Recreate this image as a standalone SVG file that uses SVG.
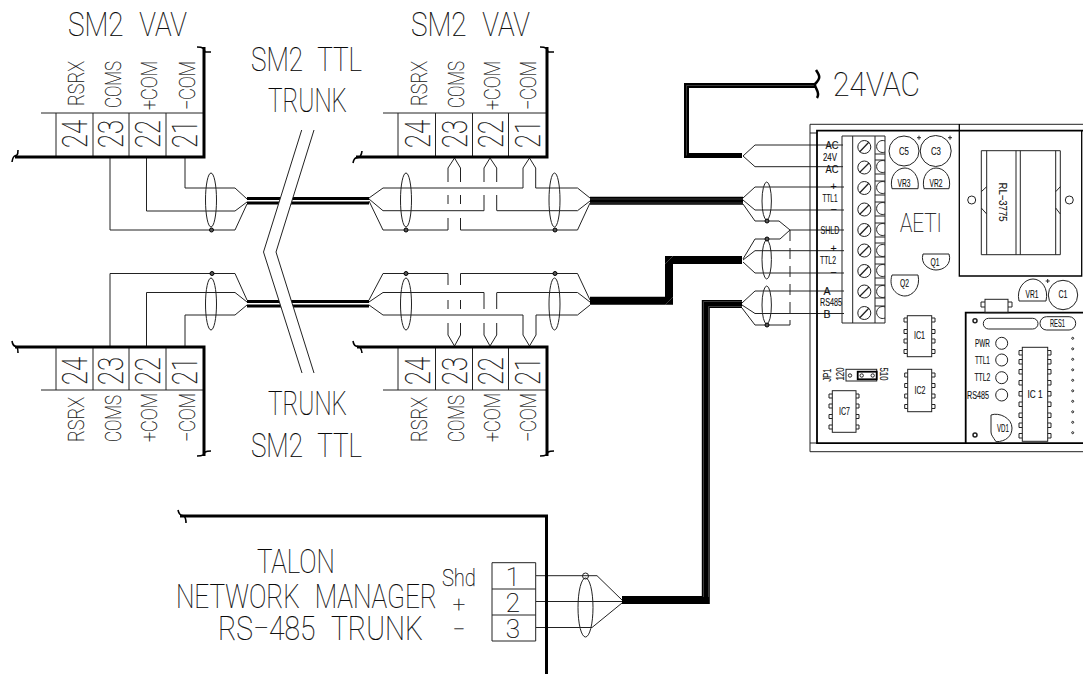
<svg xmlns="http://www.w3.org/2000/svg" width="1083" height="674" viewBox="0 0 1083 674">
<style>
text{font-family:"Roboto","Liberation Sans",sans-serif;fill:#1a1a1a;stroke:none}
.b{font-size:33.5px;font-weight:100;fill:#000;stroke:#222;stroke-width:.22;transform:rotate(.01deg)}
.r{font-size:22px;font-weight:100;fill:#000;stroke:#222;stroke-width:.25}
.n{font-size:35px;font-weight:100;fill:#000;stroke:#222;stroke-width:.22}
.s,.s text{font-family:"Liberation Sans",sans-serif;font-size:10.5px;fill:#111;stroke:#111;stroke-width:.12}
.s text,#talon text,#display-board text{transform:rotate(.01deg)}
.m{text-anchor:middle}
.sp{word-spacing:11px}
.f,.c{fill:none;stroke:#222;stroke-width:1}
.w{fill:none;stroke:#222;stroke-width:1}
.k{fill:none;stroke:#000;stroke-width:3;stroke-linejoin:miter}
.v{fill:none;stroke:#000;stroke-width:1.6}
.h{fill:none;stroke:#000;stroke-width:8;stroke-linejoin:miter}
.h5{fill:none;stroke:#000;stroke-width:5;stroke-linejoin:miter}
.g{fill:none;stroke:#777;stroke-width:.5}
.d{fill:none;stroke:#222;stroke-width:1;stroke-dasharray:11 7}
.bk{fill:#fff;stroke:#222;stroke-width:1}
.dot{fill:#555;stroke:#000;stroke-width:1}
.hv{fill:none;stroke:#000;stroke-width:1.3}
</style>
<g id="connectors" class="c">
<path d="M110 157V230H235L247 204M146.500 157V211H235L247 202M185 157V188H235L247 199"/>
<ellipse cx="211" cy="200" rx="5.500" ry="27"/>
<circle class="dot" cx="211.500" cy="230" r="2"/>
<path d="M110 347V273.500H235L247 300M146.500 347V292.500H235L247 302M185 347V315H235L247 305"/>
<ellipse cx="211" cy="304" rx="5.500" ry="26"/>
<circle class="dot" cx="212" cy="273.500" r="2"/>
<path class="k" d="M247 198.500H369M247 203H369"/>
<path class="k" d="M247 301.500H369M247 306H369"/>
<path d="M369 198L383 188H523V168L529.500 158L535.700 168V188H577.500L590 198M369 199L383 210.700H484M497 210.700H577.500L590 201M369 201L383 230H448M460.500 230H577.500L590 203"/>
<path d="M448 230V218M448 204V195M448 182V168L454.500 158L460.500 168V182M460.500 195V204M460.500 218V230M484 210.700V195M484 182V168L490 158L496.700 168V182M496.700 195V210.700"/>
<ellipse cx="406" cy="200" rx="5.500" ry="27"/>
<ellipse cx="554.500" cy="200" rx="5.500" ry="27"/>
<circle class="dot" cx="406" cy="230" r="2"/>
<circle class="dot" cx="555" cy="230" r="2"/>
<path d="M369 300L383 273.500H448M460.500 273.500H577.500L590 300M369 302L383 292.500H484M497 292.500H577.500L590 302M369 305L383 315H523M536 315H577.500L590 305"/>
<path d="M448 273.500V285M448 300V309M448 323V335L454.500 346L460.500 335V323M460.500 309V300M460.500 285V273.500M484 292.500V309M484 323V335L490 346L496.700 335V323M496.700 309V292.500M523 315V335L529.500 346L536 335V315"/>
<ellipse cx="406" cy="304" rx="5.500" ry="26"/>
<ellipse cx="554.500" cy="304" rx="5.500" ry="26"/>
<circle class="dot" cx="406" cy="273.500" r="2"/>
<circle class="dot" cx="555" cy="273.500" r="2"/>
<path class="h" d="M590 200.800H743"/>
<path class="g" d="M590 199H743M590 203H743"/>
<path class="h" d="M590 300.800H669V260H742"/>
<path class="h" d="M742 304H705.800V600H622"/>
<path class="g" d="M742 301.500H703.500M742 306.500H708.500M703.500 301.500V597M708.500 306.500V597"/>
<path class="g" d="M665 305L673 297M665 264L673 256"/>
<path class="h5" d="M815 85.500H686.500V155.500H742"/>
<path class="g" d="M815 85.500H686.500V155.500"/>
<path d="M743 156L755 145H843M743 156L755 166.700H843"/>
<path d="M743 198L755 187H844M743 200L755 210H844M743 204L755 221H779L790 230H844"/>
<path d="M790 230L780 239H755L743 259M743 260L755 250.700H844M743 262L755 273H844"/>
<path d="M742 303L755 291H844M742 305L755 313.500H844M742 308L755 325H790"/>
<line class="d" x1="790" y1="230" x2="790" y2="325"/>
<ellipse cx="766.700" cy="201" rx="4.700" ry="19"/>
<ellipse cx="766.700" cy="259.500" rx="4.700" ry="19.500"/>
<ellipse cx="766.700" cy="305" rx="4.700" ry="19"/>
<circle class="dot" cx="767" cy="221" r="2"/>
<circle class="dot" cx="767" cy="239" r="2"/>
<circle class="dot" cx="767" cy="325" r="2"/>
<path d="M536 575.700H597L622 600M536 601.500H622M536 627.500H592L622 603"/>
<ellipse cx="585.500" cy="607.500" rx="7.500" ry="29.500"/>
<circle cx="585.500" cy="576" r="3"/>
</g>

<g id="trunk-break">
<path d="M301.700 130L263.500 252L302 373H314L276 252L314 130Z" fill="#fff" stroke="none"/>
<path class="w" d="M301.700 130L263.500 252L302 373M314 130L276 252L314 373"/>
<text class="b sp" x="251" y="71" textLength="111" lengthAdjust="spacingAndGlyphs">SM2 TTL</text>
<text class="b" x="268" y="112" textLength="79" lengthAdjust="spacingAndGlyphs">TRUNK</text>
<text class="b" x="268" y="415" textLength="79" lengthAdjust="spacingAndGlyphs">TRUNK</text>
<text class="b sp" x="251" y="456.500" textLength="111" lengthAdjust="spacingAndGlyphs">SM2 TTL</text>
</g>

<g id="vav-top-left">
<text class="b sp" x="68" y="36" textLength="119" lengthAdjust="spacingAndGlyphs">SM2 VAV</text>
<path class="w" d="M41 113H204M56 113V157M93 113V157M129 113V157M166 113V157"/>
<path class="k" d="M15 157H204V47"/>
<path class="v" d="M197 47C203 47 204 48 205 52C207 52 209 52 211 52M12 162C13 155 15 156 17 155C18 154 18 152 18 150"/>
<text class="r" transform="translate(83.500 106) rotate(-90)" textLength="45" lengthAdjust="spacingAndGlyphs">RSRX</text>
<text class="r" transform="translate(120.500 108) rotate(-90)" textLength="47" lengthAdjust="spacingAndGlyphs">COMS</text>
<text class="r" transform="translate(157 110) rotate(-90)" textLength="49" lengthAdjust="spacingAndGlyphs">+COM</text>
<text class="r" transform="translate(195 110) rotate(-90)" textLength="49" lengthAdjust="spacingAndGlyphs">−COM</text>
<text class="n" transform="translate(87 148) rotate(-90)" textLength="28" lengthAdjust="spacingAndGlyphs">24</text>
<text class="n" transform="translate(123 148) rotate(-90)" textLength="28" lengthAdjust="spacingAndGlyphs">23</text>
<text class="n" transform="translate(160 148) rotate(-90)" textLength="28" lengthAdjust="spacingAndGlyphs">22</text>
<text class="n" transform="translate(197 148) rotate(-90)" textLength="28" lengthAdjust="spacingAndGlyphs">21</text>
</g>

<g id="vav-top-mid">
<text class="b sp" x="411" y="36" textLength="119" lengthAdjust="spacingAndGlyphs">SM2 VAV</text>
<path class="w" d="M383 113H546M398 113V157M435.500 113V157M472.500 113V157M508.500 113V157"/>
<path class="k" d="M356 157H547V47"/>
<path class="v" d="M540 47C546 47 547 48 548 52C550 52 552 52 554 52M353 163C354 157 356 158 360 157C361 155 362 153 362 151"/>
<text class="r" transform="translate(426.500 106) rotate(-90)" textLength="45" lengthAdjust="spacingAndGlyphs">RSRX</text>
<text class="r" transform="translate(464 108) rotate(-90)" textLength="47" lengthAdjust="spacingAndGlyphs">COMS</text>
<text class="r" transform="translate(500 110) rotate(-90)" textLength="49" lengthAdjust="spacingAndGlyphs">+COM</text>
<text class="r" transform="translate(536 110) rotate(-90)" textLength="49" lengthAdjust="spacingAndGlyphs">−COM</text>
<text class="n" transform="translate(430 148) rotate(-90)" textLength="28" lengthAdjust="spacingAndGlyphs">24</text>
<text class="n" transform="translate(466.500 148) rotate(-90)" textLength="28" lengthAdjust="spacingAndGlyphs">23</text>
<text class="n" transform="translate(503 148) rotate(-90)" textLength="28" lengthAdjust="spacingAndGlyphs">22</text>
<text class="n" transform="translate(540 148) rotate(-90)" textLength="28" lengthAdjust="spacingAndGlyphs">21</text>
</g>

<g id="vav-bottom-left">
<path class="w" d="M41 390H204M56 347V390M93 347V390M129 347V390M166 347V390"/>
<path class="k" d="M15 347H204V456"/>
<path class="v" d="M12 341C13 347 15 346 17 347C18 349 18 351 18 353M197 456C203 456 204 455 205 452C207 451 209 451 211 451"/>
<text class="r" transform="translate(83.500 442) rotate(-90)" textLength="45" lengthAdjust="spacingAndGlyphs">RSRX</text>
<text class="r" transform="translate(120.500 442) rotate(-90)" textLength="47" lengthAdjust="spacingAndGlyphs">COMS</text>
<text class="r" transform="translate(157 442) rotate(-90)" textLength="49" lengthAdjust="spacingAndGlyphs">+COM</text>
<text class="r" transform="translate(195 442) rotate(-90)" textLength="49" lengthAdjust="spacingAndGlyphs">−COM</text>
<text class="n" transform="translate(87 385) rotate(-90)" textLength="28" lengthAdjust="spacingAndGlyphs">24</text>
<text class="n" transform="translate(123 385) rotate(-90)" textLength="28" lengthAdjust="spacingAndGlyphs">23</text>
<text class="n" transform="translate(160 385) rotate(-90)" textLength="28" lengthAdjust="spacingAndGlyphs">22</text>
<text class="n" transform="translate(197 385) rotate(-90)" textLength="28" lengthAdjust="spacingAndGlyphs">21</text>
</g>

<g id="vav-bottom-mid">
<path class="w" d="M383 390H546M398 347V390M435.500 347V390M472.500 347V390M508.500 347V390"/>
<path class="k" d="M357 347H547V456"/>
<path class="v" d="M353 341C354 347 356 346 360 347C361 349 362 351 362 353M540 456C546 456 547 455 548 452C550 451 552 451 554 451"/>
<text class="r" transform="translate(426.500 442) rotate(-90)" textLength="45" lengthAdjust="spacingAndGlyphs">RSRX</text>
<text class="r" transform="translate(464 442) rotate(-90)" textLength="47" lengthAdjust="spacingAndGlyphs">COMS</text>
<text class="r" transform="translate(500 442) rotate(-90)" textLength="49" lengthAdjust="spacingAndGlyphs">+COM</text>
<text class="r" transform="translate(536 442) rotate(-90)" textLength="49" lengthAdjust="spacingAndGlyphs">−COM</text>
<text class="n" transform="translate(430 385) rotate(-90)" textLength="28" lengthAdjust="spacingAndGlyphs">24</text>
<text class="n" transform="translate(466.500 385) rotate(-90)" textLength="28" lengthAdjust="spacingAndGlyphs">23</text>
<text class="n" transform="translate(503 385) rotate(-90)" textLength="28" lengthAdjust="spacingAndGlyphs">22</text>
<text class="n" transform="translate(540 385) rotate(-90)" textLength="28" lengthAdjust="spacingAndGlyphs">21</text>
</g>

<g id="supply-24vac">
<path class="v" style="stroke-width:2.500" d="M816 70C820 76 821 78 815 84C814 88 821 92 817 98"/>
<text class="b" x="833" y="96" textLength="87" lengthAdjust="spacingAndGlyphs">24VAC</text>
</g>

<g id="talon">
<path class="k" d="M180 516H546.500V674"/>
<path class="v" d="M178 510C179 515 181 515 184 516C186 518 186 520 186 523"/>
<text class="b" x="257" y="573" textLength="78" lengthAdjust="spacingAndGlyphs">TALON</text>
<text class="b sp" x="176" y="608" textLength="261" lengthAdjust="spacingAndGlyphs">NETWORK MANAGER</text>
<text class="b sp" x="218" y="640" textLength="205" lengthAdjust="spacingAndGlyphs">RS−485 TRUNK</text>
<text class="r" style="font-size:24px" x="442" y="586" textLength="34" lengthAdjust="spacingAndGlyphs">Shd</text>
<text class="r m" style="font-size:22px" x="459" y="612">+</text>
<text class="r m" style="font-size:22px" x="459" y="637">−</text>
<path class="bk" d="M492 562.700H535.700V641H492Z"/>
<path class="w" d="M492 589H535.700M492 615H535.700"/>
<text class="n m" style="font-size:26px" x="513" y="586">1</text>
<text class="n m" style="font-size:26px" x="513" y="612">2</text>
<text class="n m" style="font-size:26px" x="513" y="638">3</text>
</g>

<g id="aeti-board">
<path class="w" d="M1083 124.300H810V451.700H1083M810 133H817M810 443H817"/>
<path class="k" d="M1083 130.700H817V443.200H1083" style="stroke-width:1.800"/>
<path class="hv" d="M959.300 124V276H1081.700V131"/>
<g id="terminal-block" class="f">
<path d="M842 136H885V323H842ZM852.700 136V323M875 136V323"/>
<path d="M875 154H885M875 160H885M875 174H885M875 181H885M875 195H885M875 202H885M875 216H885M875 223H885M875 237H885M875 243H885M875 257H885M875 264H885M875 278H885M875 285H885M875 298H885M875 306H885"/>
<path d="M885 141A6 6 0 1 0 885 152M885 161A6 6 0 1 0 885 172M885 182A6 6 0 1 0 885 193M885 203A6 6 0 1 0 885 214M885 224A6 6 0 1 0 885 235M885 245A6 6 0 1 0 885 256M885 265A6 6 0 1 0 885 276M885 286A6 6 0 1 0 885 297M885 307A6 6 0 1 0 885 318"/>
<circle cx="864.300" cy="147" r="6.500"/><circle cx="864.300" cy="167.500" r="6.500"/><circle cx="864.300" cy="188" r="6.500"/><circle cx="864.300" cy="209.500" r="6.500"/><circle cx="864.300" cy="230" r="6.500"/><circle cx="864.300" cy="250.500" r="6.500"/><circle cx="864.300" cy="271" r="6.500"/><circle cx="864.300" cy="291.500" r="6.500"/><circle cx="864.300" cy="313" r="6.500"/>
<path style="stroke-width:1.300" d="M859.500 152L869 142M859.500 172.500L869 163M859.500 193L869 183M859.500 214.500L869 205M859.500 235L869 225M859.500 255.500L869 246M859.500 276L869 266M859.500 296.500L869 287M859.500 318L869 308"/>
</g>
<g class="s m">
<text x="832" y="148.500" textLength="13" lengthAdjust="spacingAndGlyphs">AC</text>
<text x="830" y="160.500" textLength="14" lengthAdjust="spacingAndGlyphs">24V</text>
<text x="832" y="172.500" textLength="13" lengthAdjust="spacingAndGlyphs">AC</text>
<text x="833.500" y="190">+</text>
<text x="830" y="201.500" textLength="15" lengthAdjust="spacingAndGlyphs">TTL1</text>
<text x="833.500" y="213">−</text>
<text x="830" y="233.500" textLength="19" lengthAdjust="spacingAndGlyphs">SHLD</text>
<text x="833.500" y="252">+</text>
<text x="828" y="263.500" textLength="16" lengthAdjust="spacingAndGlyphs">TTL2</text>
<text x="833.500" y="276">−</text>
<text x="827" y="294.500">A</text>
<text x="831" y="305.500" textLength="22" lengthAdjust="spacingAndGlyphs">RS485</text>
<text x="827" y="317.500">B</text>
</g>
<g id="caps" class="f">
<circle cx="904" cy="151" r="15"/><circle cx="935.700" cy="151" r="15.500"/>
<path d="M917 137.700H921M919 135.700V139.700M948 137.700H952M950 135.700V139.700"/>
<path d="M892 188.700H918C920 176 912 168 905 168C897 168 889 176 892 188.700ZM924 188.700H949C952 176 944 168 936 168C929 168 921 176 924 188.700Z"/>
<path d="M923 254H949C952 264 944 270 936 270C929 270 920 264 923 254ZM892 275H918C921 288 912 296 905 296C897 296 888 288 892 275Z"/>
<path d="M1019 301H1046C1049 288 1041 279 1033 279C1025 279 1016 288 1019 301Z"/>
<circle cx="1063" cy="295" r="14.700"/>
<path d="M1045.700 281H1049.700M1047.700 279V283"/>
</g>
<g class="s m">
<text x="904" y="154.500" textLength="10" lengthAdjust="spacingAndGlyphs">C5</text>
<text x="936" y="154.500" textLength="10" lengthAdjust="spacingAndGlyphs">C3</text>
<text x="904" y="186.500" textLength="13" lengthAdjust="spacingAndGlyphs">VR3</text>
<text x="936" y="186.500" textLength="13" lengthAdjust="spacingAndGlyphs">VR2</text>
<text x="935" y="265.500" textLength="9" lengthAdjust="spacingAndGlyphs">Q1</text>
<text x="904.500" y="287" textLength="9" lengthAdjust="spacingAndGlyphs">Q2</text>
<text x="1032" y="298" textLength="13" lengthAdjust="spacingAndGlyphs">VR1</text>
<text x="1063" y="298" textLength="9" lengthAdjust="spacingAndGlyphs">C1</text>
<text x="919.500" y="338.500" textLength="11" lengthAdjust="spacingAndGlyphs">IC1</text>
<text x="920" y="393.500" textLength="11" lengthAdjust="spacingAndGlyphs">IC2</text>
<text x="844.500" y="414.500" textLength="11" lengthAdjust="spacingAndGlyphs">IC7</text>
</g>
<text class="b" style="font-size:25.500px" x="900" y="231.700" textLength="42" lengthAdjust="spacingAndGlyphs">AETI</text>
<g id="transformer" class="f">
<path d="M981.300 150.700H1060.300V254.700H981.300ZM986.700 150.700V254.700M1016 150.700V254.700M1020.300 150.700V254.700M1055.700 150.700V254.700M981.300 191.700L986.700 186.700M981.300 208L986.700 214M1055.700 191.700L1060.300 186.700M1055.700 208L1060.300 214"/>
<circle cx="971.700" cy="200" r="4"/>
<circle cx="1069.300" cy="200" r="4"/>
<text class="s" transform="translate(999 182.500) rotate(90)" textLength="39" lengthAdjust="spacingAndGlyphs" style="font-size:11px">RL−3775</text>
</g>
<g id="ic1" class="f"><rect x="907.300" y="315.700" width="24.400" height="41"/><path d="M907 318H904V322H907M907 329.500H904V333.500H907M907 339H904V343H907M907 349.500H904V353.500H907M932 318H935V322H932M932 329.500H935V333.500H932M932 339H935V343H932M932 349.500H935V353.500H932"/></g>
<g id="ic2" class="f"><rect x="907.700" y="369.300" width="24" height="42.400"/><path d="M907.700 373H904.700V377H907.700M907.700 383.500H904.700V387.500H907.700M907.700 394H904.700V398H907.700M907.700 404.500H904.700V408.500H907.700M932 373H935V377H932M932 383.500H935V387.500H932M932 394H935V398H932M932 404.500H935V408.500H932"/></g>
<g id="ic7" class="f"><rect x="832.300" y="390.700" width="23.700" height="41.600"/><path d="M832.300 394H829V398H832.300M832.300 404H829V408H832.300M832.300 414.500H829V418.500H832.300M832.300 425H829V429H832.300M856 394H859V398H856M856 404H859V408H856M856 414.500H859V418.500H856M856 425H859V429H856"/></g>
<g id="jp1" class="f">
<rect x="846" y="369.300" width="30.700" height="11.700"/>
<rect x="857.700" y="371.700" width="19" height="7.600" style="stroke:#000;stroke-width:1.800"/>
<circle cx="850" cy="375.500" r="1.700"/><circle cx="861.700" cy="375.500" r="1.700"/><circle cx="872.700" cy="375.500" r="1.700"/>
<text class="s m" transform="translate(831 375) rotate(-90)" textLength="13" lengthAdjust="spacingAndGlyphs">JP1</text>
<text class="s m" transform="translate(844 374) rotate(-90)" textLength="13" lengthAdjust="spacingAndGlyphs">120</text>
<text class="s m" transform="translate(879.500 374) rotate(90)" textLength="13" lengthAdjust="spacingAndGlyphs">510</text>
</g>
<g id="display-board" class="f">
<path style="stroke-width:1.800;stroke:#000" d="M1083 312.700H965.700V443"/>
<rect x="985" y="299.300" width="23" height="13.400"/>
<path d="M985 302H981V307H985M1008 302H1012V307H1008"/>
<circle cx="975" cy="320.700" r="2" style="stroke-width:1.500"/><circle cx="975" cy="435" r="2" style="stroke-width:1.500"/>
<rect x="983.300" y="318.300" width="54.700" height="10.700" rx="5.300"/>
<rect x="1040" y="316.700" width="35.700" height="13.300" rx="6.600"/>
<circle cx="1001.700" cy="343.300" r="6"/><circle cx="1001.700" cy="360" r="6"/><circle cx="1001.700" cy="377.700" r="6"/><circle cx="1001.700" cy="395" r="6"/>
<rect x="1022.300" y="347.300" width="25.400" height="94"/>
<path d="M1022.300 350.500H1019V355H1022.300M1022.300 359.500H1019V364H1022.300M1022.300 369.500H1019V374H1022.300M1022.300 380.500H1019V385H1022.300M1022.300 391.500H1019V396H1022.300M1022.300 402H1019V406.500H1022.300M1022.300 413H1019V417.500H1022.300M1022.300 423H1019V427.500H1022.300M1022.300 433.500H1019V438H1022.300M1047.700 350.500H1051V355H1047.700M1047.700 359.500H1051V364H1047.700M1047.700 369.500H1051V374H1047.700M1047.700 380.500H1051V385H1047.700M1047.700 391.500H1051V396H1047.700M1047.700 402H1051V406.500H1047.700M1047.700 413H1051V417.500H1047.700M1047.700 423H1051V427.500H1047.700M1047.700 433.500H1051V438H1047.700"/>
<path d="M991 415C999 412 1012 418 1012 428C1012 436 1006 441.700 996 441.700C993 437 991 435 991 432Z"/>
<circle cx="1072.700" cy="338.300" r="1"/><circle cx="1072.700" cy="348.800" r="1"/><circle cx="1072.700" cy="359.300" r="1"/><circle cx="1072.700" cy="369.800" r="1"/><circle cx="1072.700" cy="380.300" r="1"/><circle cx="1072.700" cy="390.800" r="1"/><circle cx="1072.700" cy="401.300" r="1"/><circle cx="1072.700" cy="411.800" r="1"/><circle cx="1072.700" cy="422.300" r="1"/><circle cx="1072.700" cy="432.700" r="1"/>
<text class="s m" x="1057.500" y="326.500" textLength="15" lengthAdjust="spacingAndGlyphs">RES1</text>
<text class="s m" x="982.500" y="346.800" textLength="15" lengthAdjust="spacingAndGlyphs">PWR</text>
<text class="s m" x="982.500" y="363.500" textLength="15" lengthAdjust="spacingAndGlyphs">TTL1</text>
<text class="s m" x="982.500" y="381" textLength="16" lengthAdjust="spacingAndGlyphs">TTL2</text>
<text class="s m" x="978" y="398.500" textLength="22" lengthAdjust="spacingAndGlyphs">RS485</text>
<text class="s m" x="1035" y="397.500" textLength="15" lengthAdjust="spacingAndGlyphs">IC 1</text>
<text class="s m" x="1003" y="431.500" textLength="12" lengthAdjust="spacingAndGlyphs">VD1</text>
</g>
</g>
</svg>
